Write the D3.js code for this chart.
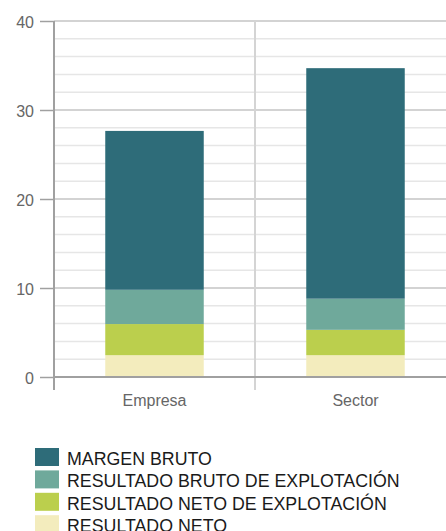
<!DOCTYPE html>
<html><head><meta charset="utf-8">
<script src="https://cdn.jsdelivr.net/npm/d3@7"></script>
<style>html,body{margin:0;padding:0;background:#fff;}svg{display:block;}</style>
</head><body>
<svg id="c" width="446" height="531"></svg>
<script>
const categories = ["Empresa", "Sector"];
const seriesNames = ["RESULTADO NETO", "RESULTADO NETO DE EXPLOTACIÓN", "RESULTADO BRUTO DE EXPLOTACIÓN", "MARGEN BRUTO"];
const resultadoNeto = [2.45, 2.45];
const resultadoNetoExplotacion = [3.5, 2.85];
const resultadoBrutoExplotacion = [3.85, 3.5];
const margenBruto = [17.85, 25.9];
const seriesColors = ["#f3ecbd", "#bbcf4d", "#6fa99b", "#2e6c79"];
const yTicks = [0, 10, 20, 30, 40];
const legendOrder = ["MARGEN BRUTO", "RESULTADO BRUTO DE EXPLOTACIÓN", "RESULTADO NETO DE EXPLOTACIÓN", "RESULTADO NETO"];

(function () {
const FONT = "'Liberation Sans', Arial, Helvetica, sans-serif";
const seriesValues = [resultadoNeto, resultadoNetoExplotacion, resultadoBrutoExplotacion, margenBruto];
const rows = categories.map((c, i) => {
  const r = {cat: c};
  seriesNames.forEach((s, j) => r[s] = seriesValues[j][i]);
  return r;
});
const stack = d3.stack().keys(seriesNames)(rows);

const svg = d3.select("#c");
const mL = 54, mR = 456, mT = 21, mB = 377;
const y = d3.scaleLinear().domain([0, 40]).range([mB, mT]);
const x = d3.scaleBand().domain(categories).range([mL, mR]).padding(0);
const color = d3.scaleOrdinal().domain(seriesNames).range(seriesColors);

const minor = d3.range(2, 40, 2).filter(v => v % 10 !== 0);
svg.append("g").selectAll("line").data(minor).join("line")
  .attr("x1", mL).attr("x2", 446)
  .attr("y1", d => y(d)).attr("y2", d => y(d))
  .attr("stroke", "#e6e6e6").attr("stroke-width", 1.5);
svg.append("g").selectAll("line").data(yTicks.filter(v => v > 0)).join("line")
  .attr("x1", mL).attr("x2", 446)
  .attr("y1", d => y(d)).attr("y2", d => y(d))
  .attr("stroke", "#c4c4c4").attr("stroke-width", 1.5);
svg.append("g").selectAll("line").data(categories.slice(1)).join("line")
  .attr("x1", d => x(d)).attr("x2", d => x(d))
  .attr("y1", mT).attr("y2", mB + 13)
  .attr("stroke", "#d4d4d4").attr("stroke-width", 2);

const bw = x.bandwidth() * 0.49;
svg.append("g").selectAll("g").data(stack).join("g")
  .attr("fill", d => color(d.key))
  .selectAll("rect").data(d => d).join("rect")
  .attr("x", d => x(d.data.cat) + x.bandwidth() / 2 - bw / 2)
  .attr("width", bw)
  .attr("y", d => y(d[1]))
  .attr("height", d => y(d[0]) - y(d[1]));

const yAxis = svg.append("g").attr("transform", `translate(${mL},0)`)
  .call(d3.axisLeft(y).tickValues(yTicks).tickSize(14).tickPadding(6).tickFormat(d3.format("d")));
yAxis.select(".domain").remove();
yAxis.selectAll(".tick line").attr("stroke", "#a0a0a0").attr("stroke-width", 1.5);
yAxis.selectAll("text").attr("fill", "#666").style("font-family", FONT).style("font-size", "16px").attr("dy", "0.38em");
svg.append("line").attr("x1", mL).attr("x2", mL).attr("y1", mT).attr("y2", mB + 13)
  .attr("stroke", "#a0a0a0").attr("stroke-width", 2);
svg.append("line").attr("x1", mL).attr("x2", 446).attr("y1", mB).attr("y2", mB)
  .attr("stroke", "#a0a0a0").attr("stroke-width", 2);

svg.append("g").selectAll("text").data(categories).join("text")
  .attr("x", d => x(d) + x.bandwidth() / 2).attr("y", 405.5)
  .attr("text-anchor", "middle").attr("fill", "#666")
  .style("font-family", FONT).style("font-size", "16px")
  .text(d => d);

const lg = svg.append("g").selectAll("g").data(legendOrder).join("g")
  .attr("transform", (d, i) => `translate(35,${448 + i * 22.4})`);
lg.append("rect").attr("width", 24).attr("height", 18).attr("fill", d => color(d));
lg.append("text").attr("x", 32).attr("y", 17).attr("fill", "#1a1a1a")
  .style("font-family", FONT).style("font-size", "17.8px")
  .text(d => d);
})();
</script>
</body></html>
